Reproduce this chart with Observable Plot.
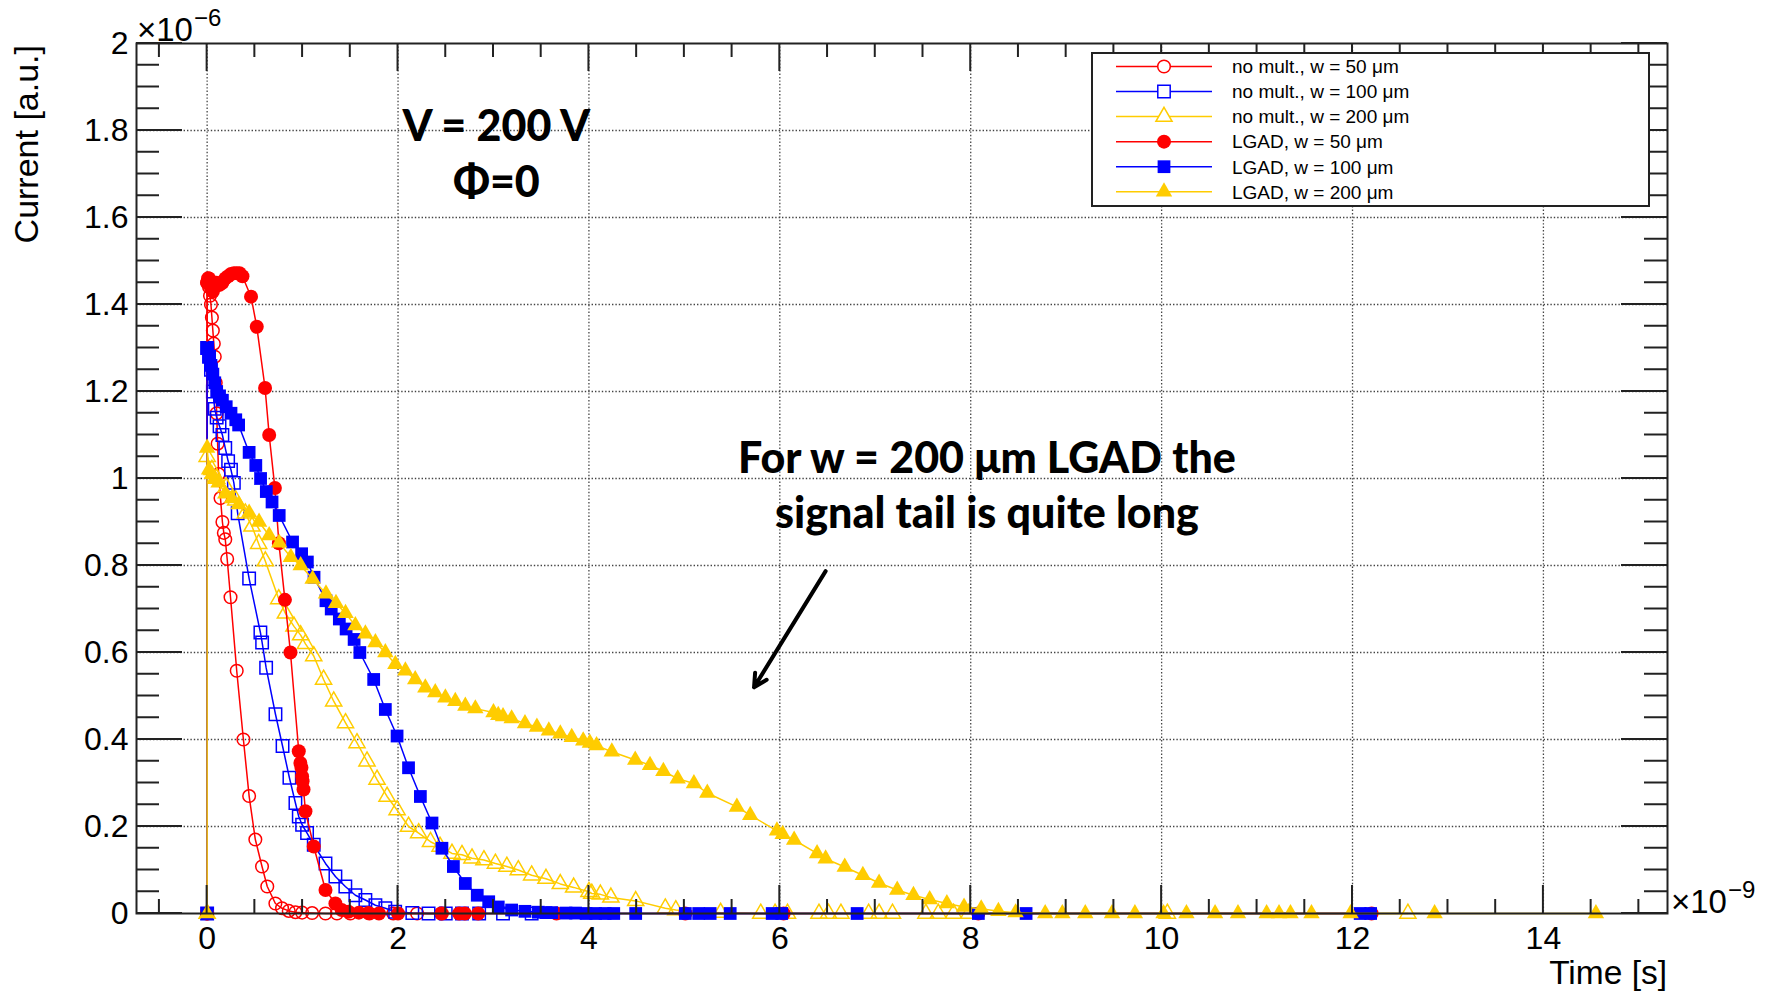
<!DOCTYPE html>
<html><head><meta charset="utf-8">
<script src="https://cdn.jsdelivr.net/npm/d3@7"></script>
<script src="https://cdn.jsdelivr.net/npm/@observablehq/plot@0.6"></script>
<style>
html,body{margin:0;padding:0;background:#fff;}
#chart{position:relative;width:1768px;height:993px;}
</style></head><body><div id="chart"></div>
<script>
// ---------------- data (time in ns, current in 1e-6 a.u.) ----------------
const seriesLabels = ["no mult., w = 50 μm","no mult., w = 100 μm","no mult., w = 200 μm","LGAD, w = 50 μm","LGAD, w = 100 μm","LGAD, w = 200 μm"];

const nm50T = [0,0,0.01,0.02,0.03,0.04,0.05,0.06,0.07,0.08,0.09,0.10,0.11,0.12,0.14,0.16,0.175,0.19,0.21,0.245,0.31,0.38,0.44,0.505,0.575,0.63,0.715,0.785,0.855,0.925,0.995,1.1,1.24,1.36,1.5,1.7,1.95,2.2,2.45];
const nm50I = [0,1.45,1.46,1.44,1.42,1.40,1.37,1.34,1.31,1.28,1.22,1.15,1.08,1.01,0.955,0.90,0.875,0.86,0.815,0.727,0.558,0.40,0.27,0.17,0.108,0.062,0.023,0.012,0.006,0.003,0.002,0.001,0,0,0,0,0,0,0];

const nm100T = [0,0,0.02,0.04,0.06,0.08,0.10,0.13,0.16,0.19,0.22,0.25,0.28,0.32,0.44,0.558,0.576,0.618,0.716,0.79,0.862,0.925,0.96,0.995,1.047,1.117,1.24,1.344,1.448,1.553,1.658,1.763,1.867,1.97,2.15,2.32,2.5,2.67,2.85,3.1,3.4];
const nm100I = [0,1.30,1.28,1.25,1.20,1.16,1.14,1.12,1.10,1.07,1.04,1.02,0.99,0.92,0.77,0.646,0.623,0.565,0.458,0.385,0.312,0.254,0.223,0.204,0.185,0.158,0.115,0.085,0.062,0.042,0.031,0.019,0.012,0.004,0.001,0,0,0,0,0,0];

const nm200T = [0,0,0.05,0.1,0.2,0.3,0.4,0.47,0.54,0.61,0.75,0.82,0.91,0.98,1.03,1.117,1.22,1.326,1.45,1.57,1.675,1.78,1.885,1.99,2.11,2.216,2.34,2.44,2.565,2.67,2.775,2.9,3.02,3.14,3.26,3.4,3.55,3.70,3.84,4.0,4.03,4.12,4.23,4.49,4.8,4.91,5.38,5.8,5.95,6.08,6.41,6.51,6.64,6.93,7.04,7.18,7.53,7.66,7.82,7.98,10.06,12.58];
const nm200I = [0,1.05,1.02,1.0,0.98,0.95,0.92,0.89,0.85,0.81,0.723,0.69,0.66,0.64,0.62,0.592,0.538,0.488,0.438,0.392,0.35,0.308,0.269,0.238,0.2,0.185,0.165,0.154,0.138,0.135,0.127,0.123,0.115,0.108,0.1,0.088,0.08,0.068,0.06,0.05,0.046,0.044,0.037,0.029,0.012,0.008,0.002,0,0,0,0,0,0,0,0,0,0,0,0,0,0,0];

const lg50T = [0,0,0.02,0.04,0.06,0.08,0.10,0.13,0.16,0.19,0.22,0.25,0.28,0.31,0.34,0.37,0.46,0.52,0.607,0.65,0.71,0.752,0.815,0.873,0.96,0.977,0.988,0.995,1.0,1.01,1.03,1.117,1.24,1.344,1.41,1.48,1.59,1.69,1.8,2.0,2.46,2.64,2.7,2.84,3.66,5.01,6.04,8.08,12.2];
const lg50I = [0,1.45,1.46,1.44,1.43,1.44,1.45,1.445,1.45,1.46,1.465,1.47,1.472,1.472,1.472,1.465,1.418,1.349,1.208,1.10,0.978,0.851,0.721,0.60,0.373,0.346,0.335,0.315,0.304,0.285,0.235,0.154,0.054,0.023,0.008,0.004,0.002,0.001,0,0,0,0,0,0,0,0,0,0,0];

const lg100T = [0,0,0.02,0.04,0.06,0.08,0.10,0.13,0.16,0.2,0.25,0.3,0.33,0.44,0.51,0.56,0.62,0.68,0.755,0.895,0.99,1.05,1.12,1.245,1.3,1.385,1.456,1.54,1.6,1.745,1.867,1.99,2.11,2.234,2.356,2.46,2.58,2.705,2.83,2.95,3.05,3.19,3.33,3.47,3.55,3.61,3.76,3.86,3.97,4.07,4.17,4.26,4.49,5.01,5.15,5.27,5.48,5.92,6.02,6.81,8.08,8.58,12.08,12.19];
const lg100I = [0,1.30,1.28,1.26,1.24,1.22,1.20,1.19,1.18,1.165,1.15,1.135,1.123,1.06,1.03,1.0,0.97,0.946,0.915,0.854,0.827,0.808,0.773,0.719,0.70,0.677,0.654,0.63,0.60,0.538,0.469,0.408,0.335,0.269,0.208,0.15,0.108,0.069,0.042,0.027,0.015,0.008,0.005,0.003,0.002,0.002,0.001,0.001,0,0,0,0,0,0,0,0,0,0,0,0,0,0,0,0];

const lg200T = [0,0,0.02,0.05,0.08,0.12,0.19,0.26,0.33,0.44,0.544,0.65,0.755,0.877,0.98,1.105,1.245,1.35,1.45,1.553,1.658,1.763,1.867,1.972,2.077,2.18,2.286,2.39,2.496,2.6,2.705,2.81,3.0,3.05,3.1,3.19,3.33,3.455,3.58,3.7,3.82,3.94,4.01,4.08,4.24,4.485,4.64,4.78,4.93,5.1,5.24,5.55,5.69,5.97,6.03,6.15,6.39,6.48,6.68,6.87,7.04,7.23,7.4,7.57,7.75,7.93,8.11,8.29,8.47,8.78,8.96,9.2,9.48,9.72,10.02,10.26,10.56,10.8,11.1,11.23,11.35,11.57,11.98,12.86,14.55];
const lg200I = [0,1.07,1.02,1.01,1.0,0.99,0.965,0.954,0.94,0.921,0.9,0.869,0.852,0.819,0.8,0.769,0.735,0.713,0.69,0.662,0.643,0.623,0.6,0.573,0.558,0.538,0.519,0.508,0.496,0.488,0.477,0.471,0.462,0.456,0.453,0.448,0.437,0.429,0.42,0.413,0.405,0.397,0.392,0.386,0.372,0.353,0.341,0.327,0.31,0.299,0.277,0.245,0.226,0.19,0.182,0.169,0.138,0.126,0.107,0.088,0.07,0.054,0.042,0.032,0.023,0.015,0.011,0.005,0.002,0,0,0,0,0,0,0,0,0,0,0,0,0,0,0,0];

const xTickLabels = [0,2,4,6,8,10,12,14];
const yTickLabels = [0,0.2,0.4,0.6,0.8,1,1.2,1.4,1.6,1.8,2];
const xGridLines = [0,2,4,6,8,10,12,14];
const yGridLines = [0.2,0.4,0.6,0.8,1,1.2,1.4,1.6,1.8];

// ---------------- styling ----------------
const RED = "#ff0000", BLUE = "#0000ff", GOLD = "#ffcc00";
const styles = [
  {color: RED,  symbol: "circle",   r: 6.3, open: true},
  {color: BLUE, symbol: "square",   r: 7.0, open: true},
  {color: GOLD, symbol: "triangle", r: 6.0, open: true},
  {color: RED,  symbol: "circle",   r: 7.0, open: false},
  {color: BLUE, symbol: "square",   r: 7.2, open: false},
  {color: GOLD, symbol: "triangle", r: 6.1, open: false}
];
const seriesT = [nm50T, nm100T, nm200T, lg50T, lg100T, lg200T];
const seriesI = [nm50I, nm100I, nm200I, lg50I, lg100I, lg200I];
const series = seriesLabels.map((name, k) => ({
  name, ...styles[k],
  rows: seriesT[k].map((t, i) => ({t, v: seriesI[k][i]}))
}));

const W = 1768, H = 993;
const mL = 136, mR = 101, mT = 43, mB = 80;
const xDomain = [-0.74, 15.3], yDomain = [0, 2];
const SANS = "'Liberation Sans', Arial, Helvetica, sans-serif";
const BOLD = "Lato, 'Open Sans', sans-serif";

const marks = [
  Plot.ruleX(xGridLines, {stroke: "#444", strokeWidth: 1.3, strokeDasharray: "1.4,2"}),
  Plot.ruleY(yGridLines, {stroke: "#444", strokeWidth: 1.3, strokeDasharray: "1.4,2"})
];
for (const s of series) {
  marks.push(Plot.line(s.rows, {x: "t", y: "v", stroke: s.color, strokeWidth: 1.5}));
  marks.push(Plot.dot(s.rows, {
    x: "t", y: "v", symbol: s.symbol, r: s.r,
    fill: s.open ? "none" : s.color,
    stroke: s.open ? s.color : "none",
    strokeWidth: s.open ? 1.5 : 0
  }));
}
// annotations
const notes = [
  {x: 3.03, y: 1.777, text: "V = 200 V"},
  {x: 3.03, y: 1.646, text: "Φ=0"},
  {x: 8.17, y: 1.012, text: "For w = 200 μm LGAD the"},
  {x: 8.17, y: 0.886, text: "signal tail is quite long"}
];
marks.push(Plot.text(notes, {x: "x", y: "y", text: "text", fontFamily: BOLD, fontWeight: 900, fontSize: 43, textAnchor: "middle", lineAnchor: "bottom", fill: "#000"}));
marks.push(Plot.arrow([{x1: 6.48, y1: 0.787, x2: 5.73, y2: 0.52}], {x1: "x1", y1: "y1", x2: "x2", y2: "y2", stroke: "#000", strokeWidth: 4, headLength: 5.5, headAngle: 55}));
marks.push(Plot.frame({stroke: "#222", strokeWidth: 2}));

const chart = Plot.plot({
  width: W, height: H,
  marginLeft: mL, marginRight: mR, marginTop: mT, marginBottom: mB,
  style: {fontFamily: SANS, fontSize: "32px", color: "#000", background: "#fff", overflow: "visible"},
  x: {domain: xDomain, ticks: xTickLabels, tickSize: 0, tickPadding: 13, label: null, tickFormat: d => String(d)},
  y: {domain: yDomain, ticks: yTickLabels, tickSize: 0, tickPadding: 8, label: null, tickFormat: d => String(d)},
  marks
});
document.getElementById("chart").appendChild(chart);

// ---------------- ROOT-style ticks, titles, legend ----------------
const svg = d3.select(chart);
const xs = chart.scale("x"), ys = chart.scale("y");
const X = v => (xs && xs.apply) ? xs.apply(v) : mL + (v - xDomain[0]) / (xDomain[1] - xDomain[0]) * (W - mL - mR);
const Y = v => (ys && ys.apply) ? ys.apply(v) : (H - mB) - (v - yDomain[0]) / (yDomain[1] - yDomain[0]) * (H - mT - mB);

const tg = svg.append("g").attr("stroke", "#222").attr("stroke-width", 2).attr("fill", "none");
const x0 = X(xDomain[0]), x1 = X(xDomain[1]), yb = Y(yDomain[0]), yt = Y(yDomain[1]);
for (let k = -1; k <= 30; k++) {
  const v = k * 0.5;
  if (v < xDomain[0] || v > xDomain[1]) continue;
  const major = k % 4 === 0;
  const len = major ? 28 : 14;
  const px = X(v);
  tg.append("line").attr("x1", px).attr("x2", px).attr("y1", yb).attr("y2", yb - len);
  tg.append("line").attr("x1", px).attr("x2", px).attr("y1", yt).attr("y2", yt + len);
}
for (let k = 0; k <= 40; k++) {
  const v = k * 0.05;
  const major = k % 4 === 0;
  const len = major ? 46 : 23;
  const py = Y(v);
  tg.append("line").attr("x1", x0).attr("x2", x0 + len).attr("y1", py).attr("y2", py);
  tg.append("line").attr("x1", x1).attr("x2", x1 - len).attr("y1", py).attr("y2", py);
}

const tx = svg.append("g").attr("font-family", SANS).attr("fill", "#000").attr("text-anchor", "start");
tx.append("text").attr("transform", "translate(38,45) rotate(-90)").attr("text-anchor", "end").attr("font-size", 34).text("Current [a.u.]");
tx.append("text").attr("x", x1).attr("y", 984).attr("text-anchor", "end").attr("font-size", 33.5).text("Time [s]");
function expo(x, y, sup) {
  const t = tx.append("text").attr("x", x).attr("y", y).attr("font-size", 33).attr("text-anchor", "start").text("×10");
  const w = t.node().getComputedTextLength();
  tx.append("text").attr("x", x + w + 1).attr("y", y - 15).attr("font-size", 24).attr("text-anchor", "start").text(sup);
}
expo(137, 41, "−6");
expo(1671, 913, "−9");

// legend
const lg = svg.append("g").attr("text-anchor", "start");
lg.append("rect").attr("x", 1092).attr("y", 53).attr("width", 557).attr("height", 153)
  .attr("fill", "#fff").attr("stroke", "#222").attr("stroke-width", 2);
series.forEach((s, i) => {
  const cy = 66.5 + i * 25.05;
  lg.append("line").attr("x1", 1116).attr("x2", 1212).attr("y1", cy).attr("y2", cy)
    .attr("stroke", s.color).attr("stroke-width", 1.5);
  const sym = {circle: d3.symbolCircle, square: d3.symbolSquare, triangle: d3.symbolTriangle}[s.symbol];
  lg.append("path").attr("transform", `translate(1164,${cy})`)
    .attr("d", d3.symbol(sym, s.r * s.r * Math.PI)())
    .attr("fill", s.open ? "#fff" : s.color)
    .attr("stroke", s.open ? s.color : "none").attr("stroke-width", 1.5);
  lg.append("text").attr("x", 1232).attr("y", cy).attr("dy", "0.36em").attr("text-anchor", "start")
    .attr("font-family", SANS).attr("font-size", 19).attr("fill", "#000").text(s.name);
});
</script></body></html>
